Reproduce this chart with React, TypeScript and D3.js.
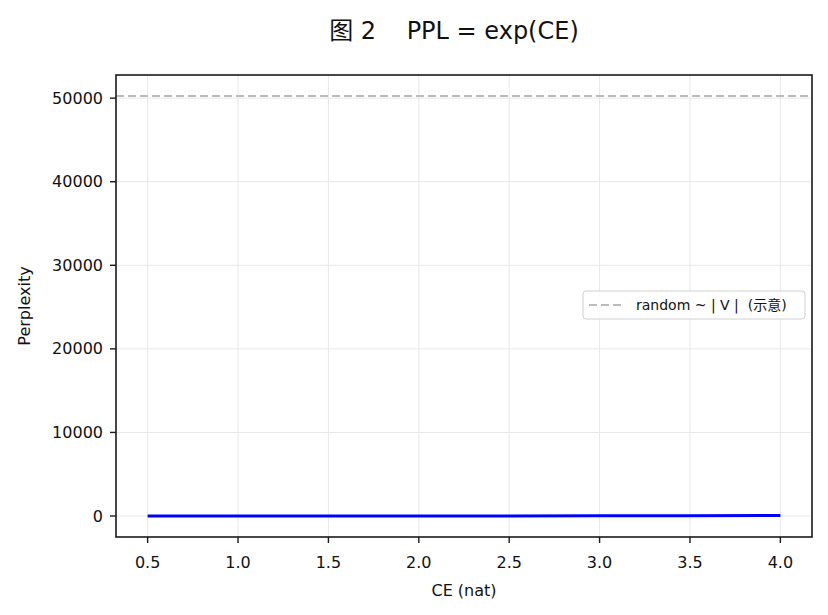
import { useEffect, useRef } from "react";
import * as d3 from "d3";

const W = 828;
const H = 615;
const M = { left: 116, right: 812, top: 75, bottom: 537 };

// values
const ceValues = [0.5, 1.0, 1.5, 2.0, 2.5, 3.0, 3.5, 4.0];
const pplValues = [1.65, 2.72, 4.48, 7.39, 12.18, 20.09, 33.12, 54.6];
const randomPpl = 50257;
const xTicks = [0.5, 1.0, 1.5, 2.0, 2.5, 3.0, 3.5, 4.0];
const yTicks = [0, 10000, 20000, 30000, 40000, 50000];

const FONT = "'DejaVu Sans', 'Noto Sans CJK SC', sans-serif";

export default function App() {
  const ref = useRef<SVGSVGElement | null>(null);

  useEffect(() => {
    const svg = d3.select(ref.current);
    svg.selectAll("*").remove();

    const x = d3.scaleLinear().domain([0.325, 4.175]).range([M.left, M.right]);
    const y = d3.scaleLinear().domain([-2513, 52770]).range([M.bottom, M.top]);

    svg.append("rect").attr("width", W).attr("height", H).attr("fill", "#fff");

    // grid
    const grid = svg.append("g").attr("stroke", "#e8e8e8").attr("stroke-width", 1);
    xTicks.forEach((t) =>
      grid.append("line").attr("x1", x(t)).attr("x2", x(t)).attr("y1", M.top).attr("y2", M.bottom)
    );
    yTicks.forEach((t) =>
      grid.append("line").attr("x1", M.left).attr("x2", M.right).attr("y1", y(t)).attr("y2", y(t))
    );

    // random baseline
    svg
      .append("line")
      .attr("x1", M.left)
      .attr("x2", M.right)
      .attr("y1", y(randomPpl))
      .attr("y2", y(randomPpl))
      .attr("stroke", "#bcbcbc")
      .attr("stroke-width", 2)
      .attr("stroke-dasharray", "8 4");

    // ppl curve
    const line = d3
      .line<number>()
      .x((_, i) => x(ceValues[i]))
      .y((d) => y(d));
    svg
      .append("path")
      .attr("d", line(pplValues) ?? "")
      .attr("fill", "none")
      .attr("stroke", "#0000ff")
      .attr("stroke-width", 3);

    // spines
    svg
      .append("rect")
      .attr("x", M.left)
      .attr("y", M.top)
      .attr("width", M.right - M.left)
      .attr("height", M.bottom - M.top)
      .attr("fill", "none")
      .attr("stroke", "#1a1a1a")
      .attr("stroke-width", 1.6);

    // x ticks
    xTicks.forEach((t) => {
      svg
        .append("line")
        .attr("x1", x(t))
        .attr("x2", x(t))
        .attr("y1", M.bottom)
        .attr("y2", M.bottom + 6)
        .attr("stroke", "#1a1a1a")
        .attr("stroke-width", 1.4);
      svg
        .append("text")
        .attr("x", x(t))
        .attr("y", M.bottom + 31)
        .attr("text-anchor", "middle")
        .attr("font-size", 16)
        .attr("font-family", FONT)
        .attr("fill", "#111")
        .text(t.toFixed(1));
    });

    // y ticks
    yTicks.forEach((t) => {
      svg
        .append("line")
        .attr("x1", M.left - 6)
        .attr("x2", M.left)
        .attr("y1", y(t))
        .attr("y2", y(t))
        .attr("stroke", "#1a1a1a")
        .attr("stroke-width", 1.4);
      svg
        .append("text")
        .attr("x", M.left - 13)
        .attr("y", y(t))
        .attr("dy", "0.35em")
        .attr("text-anchor", "end")
        .attr("font-size", 16)
        .attr("font-family", FONT)
        .attr("fill", "#111")
        .text(String(t));
    });

    // axis labels
    svg
      .append("text")
      .attr("x", (M.left + M.right) / 2)
      .attr("y", 596)
      .attr("text-anchor", "middle")
      .attr("font-size", 16)
      .attr("font-family", FONT)
      .attr("fill", "#111")
      .text("CE (nat)");
    svg
      .append("text")
      .attr("transform", `translate(30,${(M.top + M.bottom) / 2}) rotate(-90)`)
      .attr("text-anchor", "middle")
      .attr("font-size", 16)
      .attr("font-family", FONT)
      .attr("fill", "#111")
      .text("Perplexity");

    // title
    svg
      .append("text")
      .attr("x", 454)
      .attr("y", 39)
      .attr("text-anchor", "middle")
      .attr("font-size", 24)
      .attr("font-family", FONT)
      .attr("fill", "#111")
      .attr("xml:space", "preserve")
      .text("图 2    PPL = exp(CE)");

    // legend
    const lg = svg.append("g");
    lg.append("rect")
      .attr("x", 583)
      .attr("y", 291)
      .attr("width", 222)
      .attr("height", 28)
      .attr("rx", 3)
      .attr("fill", "#fff")
      .attr("fill-opacity", 0.85)
      .attr("stroke", "#d0d0d0");
    lg.append("line")
      .attr("x1", 589)
      .attr("x2", 622)
      .attr("y1", 305)
      .attr("y2", 305)
      .attr("stroke", "#bcbcbc")
      .attr("stroke-width", 2)
      .attr("stroke-dasharray", "8 4");
    lg.append("text")
      .attr("x", 636)
      .attr("y", 305)
      .attr("dy", "0.35em")
      .attr("font-size", 14)
      .attr("font-family", FONT)
      .attr("fill", "#111")
      .attr("xml:space", "preserve")
      .text("random ~ | V |  (示意)");
  }, []);

  return (
    <svg
      ref={ref}
      width={W}
      height={H}
      style={{ position: "absolute", left: 0, top: 0 }}
    />
  );
}
